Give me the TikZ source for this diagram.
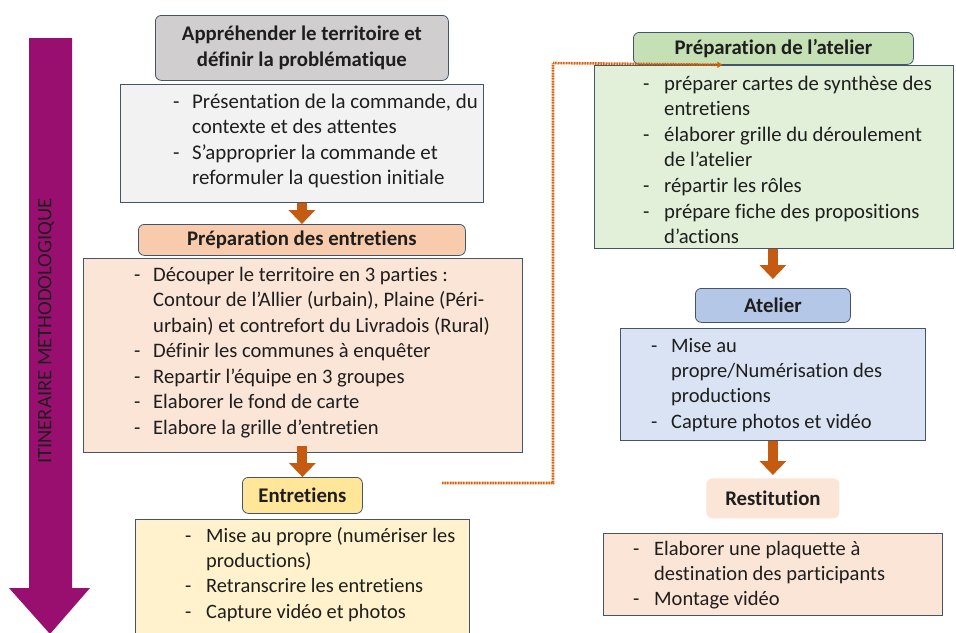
\documentclass[tikz,border=0pt]{standalone}
\usepackage{fontspec}
\setmainfont{Carlito}[Ligatures=NoCommon]
\usetikzlibrary{arrows.meta}
\definecolor{bordc}{HTML}{44546A}
\definecolor{arrc}{HTML}{C55A11}
\definecolor{purp}{HTML}{990F70}
\definecolor{gH}{HTML}{D0CECE}\definecolor{gB}{HTML}{F2F2F2}
\definecolor{oH}{HTML}{F8CBAD}\definecolor{oB}{HTML}{FBE5D6}
\definecolor{yH}{HTML}{FFE699}\definecolor{yB}{HTML}{FFF2CC}
\definecolor{vH}{HTML}{C5E0B4}\definecolor{vB}{HTML}{E2F0D9}
\definecolor{bH}{HTML}{B4C7E7}\definecolor{bB}{HTML}{DAE3F3}
\definecolor{txt}{HTML}{1E1E1E}
\newcommand{\dl}[1]{\rule{0pt}{16pt}\makebox[#1][l]{-}}
\newcommand{\il}[1]{\hspace*{#1}}
\begin{document}
\begin{tikzpicture}[x=1pt,y=-1pt,
  hdr/.style={draw=bordc, line width=0.8pt, rounded corners=6pt, anchor=north west, inner sep=0pt, font=\fontsize{20.8}{26}\selectfont\bfseries, text=txt, align=center},
  cbox/.style={draw=bordc, line width=0.8pt, anchor=north west, inner sep=0pt},
  ctext/.style={anchor=north west, inner sep=0pt, align=left, font=\fontsize{20.6}{25.6}\selectfont, text=txt},
  blockarrow/.style={draw=arrc, line width=10pt, -{Triangle[length=14pt,width=26pt]}},
  dotline/.style={draw=arrc!75!orange, line width=2.6pt, dash pattern=on 1pt off 0.6pt},
]
\useasboundingbox (0,0) rectangle (956,632);
% purple arrow
\fill[purp] (29,38) -- (72,38) -- (72,588) -- (90,588) -- (50,634) -- (9,588) -- (29,588) -- cycle;
\node[rotate=90, font=\fontsize{20.6}{22}\selectfont, text=txt, inner sep=0pt] (itin) at (46,331) {ITINERAIRE METHODOLOGIQUE};

% left column
\node[hdr, fill=gH, minimum width=293, minimum height=65] (h1) at (155,15) {Appréhender le territoire et\\définir la problématique};
\node[cbox, fill=gB, minimum width=363, minimum height=118] (b1) at (120,84) {};
\node[ctext, font=\fontsize{20.9}{25.6}\selectfont] (t1) at (173,91.8) {\dl{19pt}Présentation de la commande, du\\\il{19pt}contexte et des attentes\\\dl{19pt}S’approprier la commande et\\\il{19pt}reformuler la question initiale};

\node[hdr, fill=oH, minimum width=327, minimum height=31] (h2) at (138,224) {Préparation des entretiens};
\node[cbox, fill=oB, minimum width=439, minimum height=194] (b2) at (83,258) {};
\node[ctext, font=\fontsize{20.6}{25.5}\selectfont] (t2) at (134,264.8) {\dl{19pt}Découper le territoire en 3 parties :\\\il{19pt}Contour de l’Allier (urbain), Plaine (Péri-\\\il{19pt}urbain) et contrefort du Livradois (Rural)\\\dl{19pt}Définir les communes à enquêter\\\dl{19pt}Repartir l’équipe en 3 groupes\\\dl{19pt}Elaborer le fond de carte\\\dl{19pt}Elabore la grille d’entretien};

\node[hdr, fill=yH, minimum width=120, minimum height=36] (h3) at (242,477) {Entretiens};
\node[cbox, fill=yB, minimum width=334, minimum height=120] (b3) at (135,519) {};
\node[ctext, font=\fontsize{20.4}{25.4}\selectfont] (t3) at (185,525.8) {\dl{21pt}Mise au propre (numériser les\\\il{21pt}productions)\\\dl{21pt}Retranscrire les entretiens\\\dl{21pt}Capture vidéo et photos};

% right column
\node[cbox, fill=vB, minimum width=359, minimum height=183] (b4) at (594,65) {};
\node[hdr, fill=vH, minimum width=280, minimum height=32] (h4) at (633,32) {Préparation de l’atelier};
\node[ctext, font=\fontsize{20.7}{25.6}\selectfont] (t4) at (643,73.8) {\dl{21pt}préparer cartes de synthèse des\\\il{21pt}entretiens\\\dl{21pt}élaborer grille du déroulement\\\il{21pt}de l’atelier\\\dl{21pt}répartir les rôles\\\dl{21pt}prépare fiche des propositions\\\il{21pt}d’actions};

\node[hdr, fill=bH, minimum width=155, minimum height=34] (h5) at (695,288) {Atelier};
\node[cbox, fill=bB, minimum width=305, minimum height=112] (b5) at (620,328) {};
\node[ctext, font=\fontsize{20.5}{25.4}\selectfont] (t5) at (651,335.8) {\dl{20pt}Mise au\\\il{20pt}propre/Numérisation des\\\il{20pt}productions\\\dl{20pt}Capture photos et vidéo};

\node[hdr, draw=none, fill=oB, minimum width=133, minimum height=40] (h6) at (706,478) {Restitution};
\node[cbox, fill=oB, minimum width=339, minimum height=82] (b6) at (603,533) {};
\node[ctext, font=\fontsize{20.5}{25.4}\selectfont] (t6) at (633,538.8) {\dl{21pt}Elaborer une plaquette à\\\il{21pt}destination des participants\\\dl{21pt}Montage vidéo};

% block arrows
\draw[blockarrow] (b1.south) -- (h2.north);
\draw[blockarrow] ([yshift=7pt]b2.south -| h3.north) -- (h3.north);
\draw[blockarrow] (b4.south -| h5.north) -- ([yshift=9pt]h5.north);
\draw[blockarrow] (b5.south -| h6.north) -- ([yshift=3pt]h6.north);

% dotted connector
\coordinate (cs) at (442,483);
\coordinate (ce) at ([xshift=-51pt]h4.south);
\draw[dotline, -{Triangle[length=5pt,width=6pt]}] (cs) -- (553,483) -- (553,63) -- (ce);
\end{tikzpicture}
\end{document}
